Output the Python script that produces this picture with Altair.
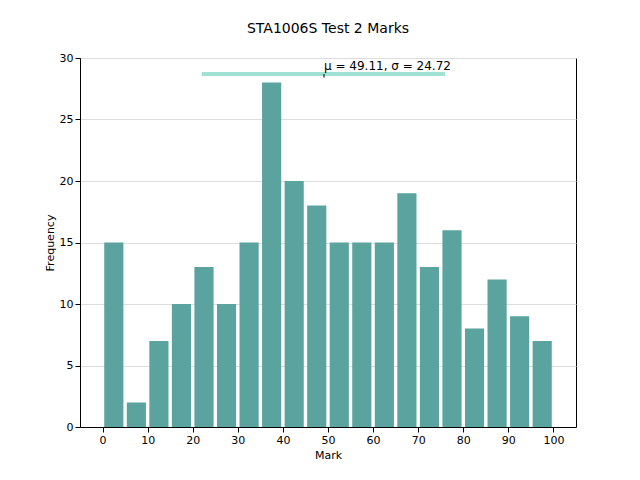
import altair as alt
import pandas as pd

bins = list(range(0, 100, 5))
freq = [15, 2, 7, 10, 13, 10, 15, 28, 20, 18, 15, 15, 15, 19, 13, 16, 8, 12, 9, 7]
mu, sigma = 49.11, 24.72
line_start, line_end, line_y = 22, 76, 28.7

df = pd.DataFrame({"b0": [b + 0.375 for b in bins], "b1": [b + 4.625 for b in bins], "f": freq})
xs = alt.Scale(domain=[-5, 105], nice=False, zero=False)
ys = alt.Scale(domain=[0, 30], nice=False)

common = dict(labelFontSize=11, titleFontSize=11, labelColor="black", titleColor="black",
              domainColor="black", tickColor="black", titleFontWeight="normal",
              labelFont="DejaVu Sans", titleFont="DejaVu Sans", labelOverlap=False, labelFlush=False)

bars = alt.Chart(df).mark_bar(color="#5aa39f").encode(
    x=alt.X("b0:Q", scale=xs, title="Mark",
            axis=alt.Axis(values=list(range(0, 101, 5)), grid=False, **common)),
    x2="b1:Q",
    y=alt.Y("f:Q", scale=ys, title="Frequency",
            axis=alt.Axis(values=list(range(0, 31, 5)), gridColor="#dddddd", **common)),
    y2=alt.datum(0),
)

ld = pd.DataFrame({"x": [line_start], "x2": [line_end], "y": [line_y]})
hline = alt.Chart(ld).mark_rule(color="#7fd8c6", opacity=0.75, strokeWidth=4).encode(
    x=alt.X("x:Q", scale=xs), x2="x2:Q", y=alt.Y("y:Q", scale=ys))

td = pd.DataFrame({"x": [mu], "y": [line_y], "y2": [line_y - 0.3],
                   "t": [f"μ = {mu}, σ = {sigma}"]})
tick = alt.Chart(td).mark_rule(color="black").encode(
    x=alt.X("x:Q", scale=xs), y=alt.Y("y:Q", scale=ys), y2="y2:Q")
text = alt.Chart(td).mark_text(align="left", baseline="bottom", dy=-1, fontSize=12,
                               font="DejaVu Sans", color="black").encode(
    x=alt.X("x:Q", scale=xs), y=alt.Y("y:Q", scale=ys), text="t:N")

chart = alt.layer(bars, hline, tick, text).properties(
    width=496, height=369,
    title=alt.TitleParams("STA1006S Test 2 Marks", fontSize=14, fontWeight="normal",
                          font="DejaVu Sans", offset=16, color="black"),
    autosize=alt.AutoSizeParams(type="none"),
    padding={"left": 72, "top": 50, "right": 56, "bottom": 45},
).configure_view(stroke="black", strokeWidth=1)

chart.save("out.html", embed_options={"renderer": "svg", "actions": False})
